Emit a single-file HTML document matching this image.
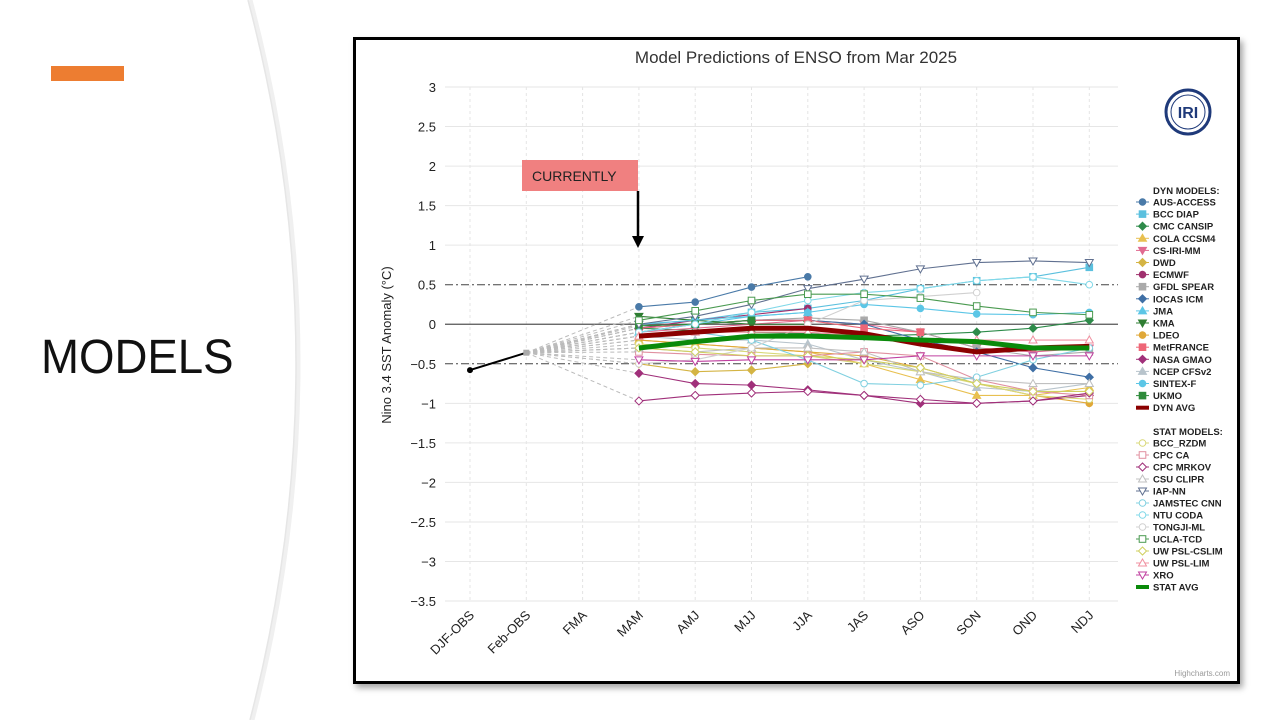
<!DOCTYPE html>
<html><head><meta charset="utf-8">
<style>
html,body{margin:0;padding:0;width:1280px;height:720px;overflow:hidden;background:#fff;font-family:"Liberation Sans",sans-serif;}
#curve{position:absolute;left:0;top:0}
#accent{position:absolute;left:51px;top:66px;width:73px;height:15px;background:#ed7d31}
#slide-title{position:absolute;left:41px;top:330px;font-size:48px;color:#111;transform:scaleX(0.95);transform-origin:left top}
#frame{position:absolute;left:353px;top:37px;width:881px;height:641px;border:3px solid #000;background:#fff;box-shadow:3px 4px 6px rgba(0,0,0,0.35)}
#chart{position:absolute;left:0;top:0}
</style></head><body>
<svg id="curve" width="1280" height="720">
<path d="M250,0 Q345,360 252,720" fill="none" stroke="#f0f0f0" stroke-width="5"/>
<path d="M248,0 Q343,360 250,720" fill="none" stroke="#e6e6e6" stroke-width="1.5"/>
</svg>
<div id="accent"></div>
<div id="slide-title">MODELS</div>
<div id="frame"></div>
<svg id="chart" width="1280" height="720"></svg>
<script>
const categories=["DJF-OBS","Feb-OBS","FMA","MAM","AMJ","MJJ","JJA","JAS","ASO","SON","OND","NDJ"];
const yTicks=[3,2.5,2,1.5,1,0.5,0,-0.5,-1,-1.5,-2,-2.5,-3,-3.5];
const obsValues=[-0.58,-0.36];
const startValue=-0.36;
const ausAccess=[0.22,0.28,0.47,0.6,null,null,null,null,null];
const bccDiap=[0.0,0.05,0.15,0.2,0.3,0.45,0.55,0.6,0.72];
const cmcCansip=[-0.05,-0.08,-0.1,-0.12,-0.15,-0.13,-0.1,-0.05,0.05];
const colaCcsm4=[-0.2,-0.25,-0.3,-0.35,-0.5,-0.7,-0.9,-0.9,-0.8];
const csIriMm=[-0.1,-0.05,0.0,0.05,0.0,-0.1,-0.3,-0.35,-0.3];
const dwd=[-0.5,-0.6,-0.58,-0.5,null,null,null,null,null];
const ecmwf=[-0.05,0.05,0.12,0.2,null,null,null,null,null];
const gfdlSpear=[-0.1,0.0,0.05,0.08,0.05,-0.1,-0.3,-0.4,-0.35];
const iocasIcm=[-0.05,0.0,0.05,0.05,0.0,-0.2,-0.35,-0.55,-0.67];
const jma=[-0.1,0.0,0.1,0.15,null,null,null,null,null];
const kma=[0.1,0.05,0.0,0.0,null,null,null,null,null];
const ldeo=[-0.2,-0.25,-0.3,-0.35,-0.4,-0.55,-0.75,-0.9,-1.0];
const metFrance=[-0.05,0.0,0.05,0.05,-0.05,-0.1,null,null,null];
const nasaGmao=[-0.62,-0.75,-0.77,-0.83,-0.9,-1.0,-1.0,-0.97,-0.9];
const ncepCfsv2=[-0.15,-0.2,-0.2,-0.25,-0.45,-0.6,-0.8,-0.85,-0.75];
const sintexF=[0.0,0.05,0.1,0.15,0.25,0.2,0.13,0.12,0.15];
const ukmo=[-0.02,0.0,0.05,null,null,null,null,null,null];
const dynAvg=[-0.15,-0.1,-0.05,-0.05,-0.12,-0.25,-0.35,-0.3,-0.28];
const bccRzdm=[-0.25,-0.3,-0.35,-0.4,-0.5,-0.6,-0.75,-0.9,-0.95];
const cpcCa=[-0.35,-0.38,-0.4,-0.4,-0.35,-0.4,-0.7,-0.85,-0.9];
const cpcMrkov=[-0.97,-0.9,-0.87,-0.85,-0.9,-0.95,-1.0,-0.97,-0.87];
const csuClipr=[-0.3,-0.35,-0.3,-0.3,-0.35,-0.6,-0.7,-0.75,-0.75];
const iapNn=[0.0,0.1,0.25,0.45,0.57,0.7,0.78,0.8,0.78];
const jamstecCnn=[-0.15,-0.1,-0.2,-0.45,-0.75,-0.77,-0.67,-0.45,-0.3];
const ntuCoda=[-0.1,0.0,0.15,0.3,0.4,0.45,0.55,0.6,0.5];
const tongjiMl=[-0.5,-0.45,-0.3,0.0,0.3,0.35,0.4,null,null];
const uclaTcd=[0.05,0.17,0.3,0.38,0.38,0.33,0.23,0.15,0.12];
const uwCslim=[-0.3,-0.35,-0.4,-0.4,-0.45,-0.55,-0.75,-0.85,-0.85];
const uwLim=[-0.15,-0.1,-0.1,-0.1,-0.15,-0.2,-0.2,-0.2,-0.2];
const xro=[-0.45,-0.47,-0.45,-0.45,-0.45,-0.4,-0.4,-0.4,-0.4];
const statAvg=[-0.3,-0.22,-0.15,-0.15,-0.17,-0.2,-0.22,-0.3,-0.3];

const NS="http://www.w3.org/2000/svg";
const svg=document.getElementById('chart');
const X0=470,DX=56.3,Y3=87,PX=79.08;
function xs(i){return X0+i*DX;}
function ys(v){return Y3+(3-v)*PX;}
function el(t,a,p){const e=document.createElementNS(NS,t);for(const k in a)e.setAttribute(k,a[k]);(p||svg).appendChild(e);return e;}

let t=el('text',{x:796,y:63,'text-anchor':'middle','font-size':17,fill:'#333'});t.textContent='Model Predictions of ENSO from Mar 2025';


const plotL=445,plotR=1118;
categories.forEach((c,i)=>{
 const g=el('line',{x1:xs(i),x2:xs(i),y1:Y3,y2:ys(-3.5),stroke:'#e4e4e4','stroke-dasharray':'3,3'});
 
 
 const lb=el('text',{x:xs(i)+5,y:616,'text-anchor':'end','font-size':13,fill:'#222',transform:`rotate(-45 ${xs(i)+5} 616)`});
 lb.textContent=c;
 
 
});
yTicks.forEach(v=>{
 let st={stroke:'#e6e6e6'};
 if(v===0)st={stroke:'#555','stroke-width':1.3};
 if(Math.abs(v)===0.5)st={stroke:'#444','stroke-dasharray':'8,3,2,3'};
 const g=el('line',Object.assign({x1:plotL,x2:plotR,y1:ys(v),y2:ys(v)},st));
 
 
 const lb=el('text',{x:436,y:ys(v)+5,'text-anchor':'end','font-size':13,fill:'#222'});
 lb.textContent=v<0?'\u2212'+Math.abs(v):String(v);
 
 
});
const yt=el('text',{x:391,y:345,'text-anchor':'middle','font-size':13,fill:'#222',transform:'rotate(-90 391 345)'});
yt.textContent='Nino 3.4 SST Anomaly (\u00b0C)';



function marker(shape,x,y,color,hollow,p){
 const f=hollow?'#fff':color,s=color;let m;
 const r=3.3;
 if(shape==='circle')m=el('circle',{cx:x,cy:y,r:r,fill:f,stroke:s},p);
 else if(shape==='square')m=el('rect',{x:x-r,y:y-r,width:2*r,height:2*r,fill:f,stroke:s},p);
 else if(shape==='diamond')m=el('path',{d:`M${x},${y-4}L${x+4},${y}L${x},${y+4}L${x-4},${y}Z`,fill:f,stroke:s},p);
 else if(shape==='tri')m=el('path',{d:`M${x},${y-4}L${x+4},${y+3}L${x-4},${y+3}Z`,fill:f,stroke:s},p);
 else m=el('path',{d:`M${x},${y+4}L${x+4},${y-3}L${x-4},${y-3}Z`,fill:f,stroke:s},p);
 return m;
}
const series=[
 ['AUS-ACCESS',ausAccess,'#4a7aa8','circle',0],
 ['BCC DIAP',bccDiap,'#5bc0de','square',0],
 ['CMC CANSIP',cmcCansip,'#2e8b4a','diamond',0],
 ['COLA CCSM4',colaCcsm4,'#e8c050','tri',0],
 ['CS-IRI-MM',csIriMm,'#e06a90','tridown',0],
 ['DWD',dwd,'#d4b444','diamond',0],
 ['ECMWF',ecmwf,'#a0306e','circle',0],
 ['GFDL SPEAR',gfdlSpear,'#aaaaaa','square',0],
 ['IOCAS ICM',iocasIcm,'#3f6fa5','diamond',0],
 ['JMA',jma,'#5cc6e6','tri',0],
 ['KMA',kma,'#2e7d32','tridown',0],
 ['LDEO',ldeo,'#e0a838','circle',0],
 ['MetFRANCE',metFrance,'#ee6677','square',0],
 ['NASA GMAO',nasaGmao,'#a0307a','diamond',0],
 ['NCEP CFSv2',ncepCfsv2,'#b8c4cc','tri',0],
 ['SINTEX-F',sintexF,'#5cc6e6','circle',0],
 ['UKMO',ukmo,'#2e8b3a','square',0],
 ['DYN AVG',dynAvg,'#8b0000','line',0],
 ['BCC_RZDM',bccRzdm,'#d8d878','circle',1],
 ['CPC CA',cpcCa,'#e090a0','square',1],
 ['CPC MRKOV',cpcMrkov,'#a0307a','diamond',1],
 ['CSU CLIPR',csuClipr,'#c0c0c0','tri',1],
 ['IAP-NN',iapNn,'#607090','tridown',1],
 ['JAMSTEC CNN',jamstecCnn,'#80d0e0','circle',1],
 ['NTU CODA',ntuCoda,'#80d8e8','circle',1],
 ['TONGJI-ML',tongjiMl,'#d0d0d0','circle',1],
 ['UCLA-TCD',uclaTcd,'#4a9a50','square',1],
 ['UW PSL-CSLIM',uwCslim,'#d0d060','diamond',1],
 ['UW PSL-LIM',uwLim,'#f090a0','tri',1],
 ['XRO',xro,'#c040a0','tridown',1],
 ['STAT AVG',statAvg,'#0a8a0a','line',1]
];
series.forEach(s=>{
 const v=s[1][0];if(v==null)return;
 const l=el('line',{x1:xs(1),y1:ys(startValue),x2:xs(3),y2:ys(v),stroke:'#bbb','stroke-dasharray':'4,3'});
 
 
});
function drawSeries(s){
 const [name,vals,color,shape,hollow]=s;
 const g=el('g',{});
 
 
 let d='';vals.forEach((v,i)=>{if(v==null)return;d+=(d?'L':'M')+xs(i+3)+','+ys(v);});
 el('path',{d:d,fill:'none',stroke:color,'stroke-width':shape==='line'?5:1.1},g);
 if(shape!=='line')vals.forEach((v,i)=>{if(v!=null)marker(shape,xs(i+3),ys(v),color,hollow,g);});
}
series.filter(s=>s[3]!=='line').forEach(drawSeries);
series.filter(s=>s[3]==='line').forEach(drawSeries);
const og=el('g',{});


el('line',{x1:xs(0),y1:ys(obsValues[0]),x2:xs(1),y2:ys(obsValues[1]),stroke:'#000','stroke-width':2},og);
el('circle',{cx:xs(0),cy:ys(obsValues[0]),r:3,fill:'#000'},og);
el('rect',{x:xs(1)-3,y:ys(obsValues[1])-3,width:6,height:6,fill:'#aaa'},og);

function legText(x,y,s,name){const e=el('text',{x:x,y:y,'font-size':9.5,'font-weight':'bold',fill:'#222'});e.textContent=s;
 
 }
legText(1153,194,'DYN MODELS:','legend-dyn-header');
legText(1153,435,'STAT MODELS:','legend-stat-header');
series.forEach((s,i)=>{
 const y=i<18?202+i*12.1:443+(i-18)*12.0;
 const g=el('g',{});
 
 
 if(s[3]==='line')el('line',{x1:1136,x2:1149,y1:y,y2:y,stroke:s[2],'stroke-width':4},g);
 else{el('line',{x1:1136,x2:1149,y1:y,y2:y,stroke:s[2],'stroke-width':1},g);marker(s[3],1142.5,y,s[2],s[4],g);}
 const tx=el('text',{x:1153,y:y+3.5,'font-size':9.5,'font-weight':'bold',fill:'#222'},g);tx.textContent=s[0];
});
const lg=el('g',{});


el('circle',{cx:1188,cy:112,r:22,fill:'#fff',stroke:'#1f3a7a','stroke-width':3},lg);
el('circle',{cx:1188,cy:112,r:17,fill:'none',stroke:'#1f3a7a','stroke-width':1},lg);
const it=el('text',{x:1188,y:118,'text-anchor':'middle','font-size':16,'font-weight':'bold',fill:'#1f3a7a'},lg);it.textContent='IRI';
const cb=el('rect',{x:522,y:160,width:116,height:31,fill:'#f08080'});


const ct=el('text',{x:532,y:181,'font-size':14,fill:'#222'});ct.textContent='CURRENTLY';


const ar=el('g',{});


el('line',{x1:638,y1:191,x2:638,y2:238,stroke:'#000','stroke-width':2.5},ar);
el('path',{d:'M632,236L644,236L638,248Z',fill:'#000'},ar);
const hc=el('text',{x:1230,y:676,'text-anchor':'end','font-size':8,fill:'#999'});hc.textContent='Highcharts.com';


</script>
</body></html>
